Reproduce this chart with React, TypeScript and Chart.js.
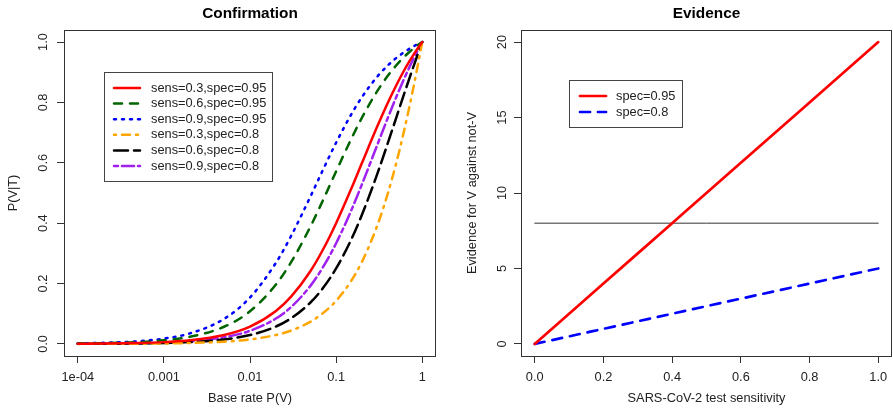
import React, { useEffect, useRef } from "react";
import { Chart, registerables } from "chart.js";
Chart.register(...registerables);

// ---------- data: Confirmation panel ----------
const baseRate = [0.0001, 0.0002, 0.0005, 0.001, 0.002, 0.005, 0.01, 0.02, 0.03, 0.05, 0.07, 0.1, 0.15, 0.2, 0.3, 0.4, 0.5, 0.6, 0.7, 0.8, 0.9, 0.95, 1];
const sens03spec95 = [0.0006, 0.0012, 0.003, 0.00597, 0.01188, 0.02927, 0.05714, 0.10909, 0.15652, 0.24, 0.31111, 0.4, 0.51429, 0.6, 0.72, 0.8, 0.85714, 0.9, 0.93333, 0.96, 0.98182, 0.9913, 1];
const sens06spec95 = [0.0012, 0.0024, 0.00597, 0.01187, 0.02348, 0.05687, 0.10811, 0.19672, 0.27068, 0.3871, 0.47458, 0.57143, 0.67925, 0.75, 0.83721, 0.88889, 0.92308, 0.94737, 0.96552, 0.97959, 0.99083, 0.99565, 1];
const sens09spec95 = [0.0018, 0.00359, 0.00892, 0.0177, 0.03481, 0.08295, 0.15385, 0.26866, 0.35762, 0.48649, 0.57534, 0.66667, 0.76056, 0.81818, 0.88525, 0.92308, 0.94737, 0.96429, 0.97674, 0.9863, 0.99387, 0.99708, 1];
const sens03spec80 = [0.00015, 0.0003, 0.00075, 0.0015, 0.003, 0.00748, 0.01493, 0.0297, 0.04433, 0.07317, 0.10145, 0.14286, 0.2093, 0.27273, 0.3913, 0.5, 0.6, 0.69231, 0.77778, 0.85714, 0.93103, 0.9661, 1];
const sens06spec80 = [0.0003, 0.0006, 0.0015, 0.00299, 0.00598, 0.01485, 0.02941, 0.05769, 0.08491, 0.13636, 0.18421, 0.25, 0.34615, 0.42857, 0.5625, 0.66667, 0.75, 0.81818, 0.875, 0.92308, 0.96429, 0.98276, 1];
const sens09spec80 = [0.00045, 0.0009, 0.00225, 0.00448, 0.00894, 0.02211, 0.04348, 0.08411, 0.12217, 0.19149, 0.25301, 0.33333, 0.44262, 0.52941, 0.65854, 0.75, 0.81818, 0.87097, 0.91304, 0.94737, 0.9759, 0.98844, 1];
const confirmationLabels = ["sens=0.3,spec=0.95", "sens=0.6,spec=0.95", "sens=0.9,spec=0.95", "sens=0.3,spec=0.8", "sens=0.6,spec=0.8", "sens=0.9,spec=0.8"];
const baseRateTicks = [0.0001, 0.001, 0.01, 0.1, 1];
const baseRateTickLabels = ["1e-04", "0.001", "0.01", "0.1", "1"];
const probTicks = [0, 0.2, 0.4, 0.6, 0.8, 1];
const probTickLabels = ["0.0", "0.2", "0.4", "0.6", "0.8", "1.0"];

// ---------- data: Evidence panel ----------
const sensitivity = [0, 0.2, 0.4, 0.6, 0.8, 1];
const evidenceSpec95 = [0, 4, 8, 12, 16, 20];
const evidenceSpec80 = [0, 1, 2, 3, 4, 5];
const thresholdX = [0, 1];
const thresholdY = [8, 8];
const evidenceLabels = ["spec=0.95", "spec=0.8"];
const sensTicks = [0, 0.2, 0.4, 0.6, 0.8, 1];
const sensTickLabels = ["0.0", "0.2", "0.4", "0.6", "0.8", "1.0"];
const evidenceTicks = [0, 5, 10, 15, 20];
const evidenceTickLabels = ["0", "5", "10", "15", "20"];

const FONT = "'Liberation Sans', Arial, sans-serif";
const FS = 12.8;

function pts(xs: number[], ys: number[]) {
  return xs.map((x, i) => ({ x, y: ys[i] }));
}

function line(label: string, xs: number[], ys: number[], color: string, dash: number[], width = 2.5, inLegend = true) {
  return {
    label,
    data: pts(xs, ys),
    borderColor: color,
    backgroundColor: color,
    borderWidth: width,
    borderDash: dash,
    borderCapStyle: "round",
    borderJoinStyle: "round",
    pointRadius: 0,
    pointHoverRadius: 0,
    fill: false,
    cubicInterpolationMode: "monotone",
    inLegend,
  };
}

type Cfg = {
  title: string;
  xTitle: string;
  yTitle: string;
  xTicks: number[];
  xLabels: string[];
  yTicks: number[];
  yLabels: string[];
  yLabelX: number;
  yTitleX: number;
  legend: { x0: number; y0: number; x1: number; y1: number; rowY: number; step: number; lx0: number; lx1: number; tx: number };
};

function decor(cfg: Cfg) {
  return {
    id: "decor",
    afterDraw(chart: any) {
      const { ctx, chartArea: a, scales } = chart;
      const xs = scales.x, ys = scales.y;
      ctx.save();
      ctx.setLineDash([]);
      ctx.strokeStyle = "#333";
      ctx.lineWidth = 1;
      ctx.strokeRect(a.left + 0.5, a.top + 0.5, a.right - a.left - 1, a.bottom - a.top);
      ctx.fillStyle = "#000";
      // title
      ctx.font = `bold ${FS * 1.2}px ${FONT}`;
      ctx.textAlign = "center";
      ctx.textBaseline = "middle";
      const cx = (a.left + a.right) / 2;
      const cy = (a.top + a.bottom) / 2;
      ctx.fillText(cfg.title, cx, 14);
      ctx.font = `${FS}px ${FONT}`;
      ctx.fillStyle = "#222";
      cfg.xTicks.forEach((v, i) => {
        ctx.fillText(cfg.xLabels[i], xs.getPixelForValue(v), 377);
      });
      cfg.yTicks.forEach((v, i) => {
        ctx.save();
        ctx.translate(cfg.yLabelX, ys.getPixelForValue(v));
        ctx.rotate(-Math.PI / 2);
        ctx.fillText(cfg.yLabels[i], 0, 0);
        ctx.restore();
      });
      ctx.fillText(cfg.xTitle, cx, 398);
      ctx.save();
      ctx.translate(cfg.yTitleX, cy);
      ctx.rotate(-Math.PI / 2);
      ctx.fillText(cfg.yTitle, 0, 0);
      ctx.restore();
      // legend
      const L = cfg.legend;
      ctx.fillStyle = "#fff";
      ctx.fillRect(L.x0, L.y0, L.x1 - L.x0, L.y1 - L.y0);
      ctx.strokeStyle = "#444";
      ctx.lineWidth = 1;
      ctx.strokeRect(L.x0 + 0.5, L.y0 + 0.5, L.x1 - L.x0, L.y1 - L.y0);
      const items = chart.data.datasets.filter((d: any) => d.inLegend);
      items.forEach((d: any, i: number) => {
        const y = L.rowY + i * L.step;
        ctx.strokeStyle = d.borderColor;
        ctx.lineWidth = d.borderWidth;
        ctx.lineCap = "round";
        ctx.setLineDash(d.borderDash);
        ctx.beginPath();
        ctx.moveTo(L.lx0, y);
        ctx.lineTo(L.lx1, y);
        ctx.stroke();
        ctx.setLineDash([]);
        ctx.fillStyle = "#222";
        ctx.textAlign = "left";
        ctx.fillText(d.label, L.tx, y);
      });
      ctx.restore();
    },
  };
}

function scaleOpts(type: string, min: number, max: number, ticks: number[], size: number, horizontal: boolean) {
  return {
    type,
    min,
    max,
    bounds: "data",
    afterBuildTicks: (s: any) => {
      s.ticks = ticks.map((v) => ({ value: v }));
    },
    afterFit: (s: any) => {
      if (horizontal) s.height = size;
      else s.width = size;
    },
    ticks: { display: false },
    grid: { drawOnChartArea: false, drawTicks: true, tickLength: 7, color: "#333", lineWidth: 1 },
    border: { display: false },
  };
}

function Panel(props: { left: number; width: number; datasets: any[]; xScale: any; yScale: any; padRight: number; cfg: Cfg }) {
  const ref = useRef<HTMLCanvasElement | null>(null);
  useEffect(() => {
    if (!ref.current) return;
    const chart = new Chart(ref.current, {
      type: "line",
      data: { datasets: props.datasets },
      options: {
        responsive: false,
        animation: false,
        devicePixelRatio: 1,
        layout: { padding: { left: 0, right: props.padRight, top: 30, bottom: 0 } },
        plugins: { legend: { display: false }, tooltip: { enabled: false }, title: { display: false } },
        scales: { x: props.xScale, y: props.yScale },
      } as any,
      plugins: [decor(props.cfg)],
    } as any);
    return () => chart.destroy();
  }, []);
  return (
    <canvas
      ref={ref}
      width={props.width}
      height={410}
      style={{ position: "absolute", left: props.left, top: 0, width: props.width, height: 410, display: "block" }}
    />
  );
}

export default function App() {
  const confDatasets = [
    line(confirmationLabels[0], baseRate, sens03spec95, "#FF0000", []),
    line(confirmationLabels[1], baseRate, sens06spec95, "#006400", [8, 8]),
    line(confirmationLabels[2], baseRate, sens09spec95, "#0000FF", [2, 6]),
    line(confirmationLabels[3], baseRate, sens03spec80, "#FFA500", [2, 6, 8, 6]),
    line(confirmationLabels[4], baseRate, sens06spec80, "#000000", [14, 6]),
    line(confirmationLabels[5], baseRate, sens09spec80, "#A020F0", [4, 4, 12, 4]),
  ];
  const evDatasets = [
    line(evidenceLabels[0], sensitivity, evidenceSpec95, "#FF0000", [], 2.7),
    line(evidenceLabels[1], sensitivity, evidenceSpec80, "#0000FF", [10, 8], 2.7),
    line("threshold", thresholdX, thresholdY, "#333333", [], 1, false),
  ];
  return (
    <div style={{ position: "fixed", left: 0, top: 0, width: 893, height: 410, background: "#fff", overflow: "hidden" }}>
      <Panel
        left={0}
        width={446}
        padRight={10}
        datasets={confDatasets}
        xScale={scaleOpts("logarithmic", Math.pow(10, -4.16), Math.pow(10, 0.16), baseRateTicks, 54, true)}
        yScale={scaleOpts("linear", -0.04, 1.04, probTicks, 64, false)}
        cfg={{
          title: "Confirmation",
          xTitle: "Base rate P(V)",
          yTitle: "P(V|T)",
          xTicks: baseRateTicks,
          xLabels: baseRateTickLabels,
          yTicks: probTicks,
          yLabels: probTickLabels,
          yLabelX: 43,
          yTitleX: 13,
          legend: { x0: 104, y0: 72, x1: 272, y1: 181, rowY: 88, step: 15.6, lx0: 114, lx1: 140, tx: 151 },
        }}
      />
      <Panel
        left={446}
        width={447}
        padRight={1}
        datasets={evDatasets}
        xScale={scaleOpts("linear", -0.04, 1.04, sensTicks, 54, true)}
        yScale={scaleOpts("linear", -0.8, 20.8, evidenceTicks, 75, false)}
        cfg={{
          title: "Evidence",
          xTitle: "SARS-CoV-2 test sensitivity",
          yTitle: "Evidence for V against not-V",
          xTicks: sensTicks,
          xLabels: sensTickLabels,
          yTicks: evidenceTicks,
          yLabels: evidenceTickLabels,
          yLabelX: 56,
          yTitleX: 26,
          legend: { x0: 123, y0: 80, x1: 236, y1: 127, rowY: 96, step: 16, lx0: 134, lx1: 160, tx: 170 },
        }}
      />
    </div>
  );
}
